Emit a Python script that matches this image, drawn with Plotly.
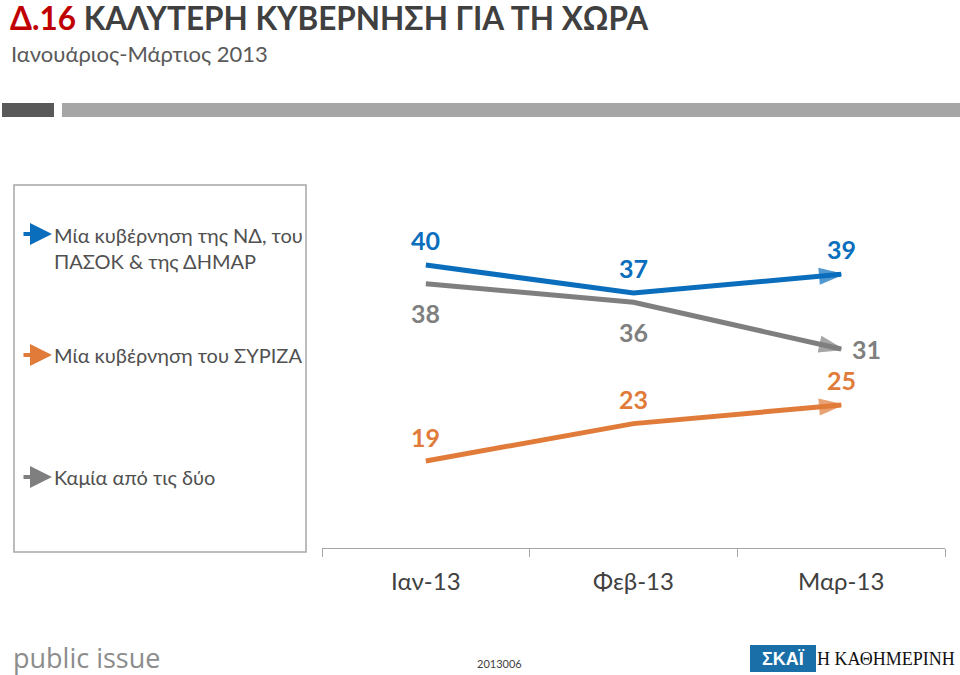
import plotly.graph_objects as go

months = ["Ιαν-13", "Φεβ-13", "Μαρ-13"]
series_names = ["Μία κυβέρνηση της ΝΔ, του<br>ΠΑΣΟΚ & της ΔΗΜΑΡ",
                "Μία κυβέρνηση του ΣΥΡΙΖΑ",
                "Καμία από τις δύο"]
nd_pasok_dimar = [40, 37, 39]
syriza = [19, 23, 25]
none_of_two = [38, 36, 31]

W, H = 960, 675
def px(x):
    return x / W
def py(y):
    return 1 - y / H

BLUE = "#0a6ebd"
ORANGE = "#e07b39"
GRAY = "#7f7f7f"
TXT = "#404040"
FONT = "Lato"

fig = go.Figure()

order = [(none_of_two, GRAY), (syriza, ORANGE), (nd_pasok_dimar, BLUE)]
for vals, col in order:
    fig.add_trace(go.Scatter(
        x=months, y=vals, mode="lines+markers",
        line=dict(color=col, width=5),
        marker=dict(symbol=["circle", "circle", "arrow"], size=[0, 0, 22],
                    color=col, angleref="previous", line=dict(width=2.5, color=col)),
        showlegend=False, hoverinfo="skip", cliponaxis=False))

# value labels
label_specs = [
    (nd_pasok_dimar, BLUE, [(0, -25), (0, -25), (0, -25)]),
    (none_of_two, GRAY, [(0, 29), (0, 30), (25, 0)]),
    (syriza, ORANGE, [(0, -24), (0, -25), (0, -25)]),
]
annotations = []
for vals, col, offs in label_specs:
    for m, v, (dx, dy) in zip(months, vals, offs):
        annotations.append(dict(x=m, y=v, xref="x", yref="y", text="<b>%d</b>" % v,
                                showarrow=False, xshift=dx, yshift=-dy,
                                font=dict(family=FONT, size=25, color=col)))

# title etc.
annotations.append(dict(x=px(8), y=py(18), xref="paper", yref="paper",
                        xanchor="left", yanchor="middle", showarrow=False,
                        text="<b><span style='color:#c00000'>Δ.16</span> ΚΑΛΥΤΕΡΗ ΚΥΒΕΡΝΗΣΗ ΓΙΑ ΤΗ ΧΩΡΑ</b>",
                        font=dict(family=FONT, size=31.5, color="#404040")))
annotations.append(dict(x=px(9), y=py(54), xref="paper", yref="paper",
                        xanchor="left", yanchor="middle", showarrow=False,
                        text="Ιανουάριος-Μάρτιος 2013",
                        font=dict(family=FONT, size=22, color="#595959")))

# legend entries
leg_text_y = [248, 355, 477]
leg_cols = [BLUE, ORANGE, GRAY]
for name, ty, col in zip(series_names, leg_text_y, leg_cols):
    annotations.append(dict(x=px(52), y=py(ty), xref="paper", yref="paper",
                            xanchor="left", yanchor="middle", showarrow=False,
                            align="left", text=name,
                            font=dict(family=FONT, size=20, color="#505050")))
leg_arrow_y = [234, 355, 477]
for ay_, col in zip(leg_arrow_y, leg_cols):
    annotations.append(dict(x=px(52), y=py(ay_), xref="paper", yref="paper",
                            ax=-30, ay=0, axref="pixel", ayref="pixel",
                            showarrow=True, arrowhead=2, arrowsize=1.1,
                            arrowwidth=4, arrowcolor=col, text=""))

# footer
annotations.append(dict(x=px(11), y=py(657), xref="paper", yref="paper",
                        xanchor="left", yanchor="middle", showarrow=False,
                        text="public issue",
                        font=dict(family="Open Sans", size=27, color="#8c8c8c")))
annotations.append(dict(x=px(499), y=py(663), xref="paper", yref="paper",
                        xanchor="center", yanchor="middle", showarrow=False,
                        text="2013006",
                        font=dict(family=FONT, size=11, color="#404040")))
annotations.append(dict(x=px(783), y=py(659), xref="paper", yref="paper",
                        xanchor="center", yanchor="middle", showarrow=False,
                        text="<b>ΣΚΑΪ</b>",
                        font=dict(family="Liberation Sans", size=18, color="white")))
annotations.append(dict(x=px(957), y=py(659), xref="paper", yref="paper",
                        xanchor="right", yanchor="middle", showarrow=False,
                        text="Η ΚΑΘΗΜΕΡΙΝΗ",
                        font=dict(family="Liberation Serif", size=18, color="#111111")))

shapes = [
    dict(type="rect", xref="paper", yref="paper", x0=px(2), x1=px(54),
         y0=py(117), y1=py(103), fillcolor="#595959", line=dict(width=0)),
    dict(type="rect", xref="paper", yref="paper", x0=px(62), x1=px(960),
         y0=py(117), y1=py(103), fillcolor="#a6a6a6", line=dict(width=0)),
    dict(type="rect", xref="paper", yref="paper", x0=px(14), x1=px(306),
         y0=py(552), y1=py(185), fillcolor="rgba(0,0,0,0)",
         line=dict(color="#a6a6a6", width=1.5)),
    dict(type="rect", xref="paper", yref="paper", x0=px(750), x1=px(816),
         y0=py(672), y1=py(645), fillcolor="#1a6fa8", line=dict(width=0)),
]

fig.update_layout(
    width=W, height=H, margin=dict(l=0, r=0, t=0, b=0),
    paper_bgcolor="white", plot_bgcolor="white",
    xaxis=dict(domain=[px(322), px(945)], type="category", range=[-0.5, 2.5],
               showline=True, linecolor="#a6a6a6", linewidth=1.2,
               ticks="outside", tickson="boundaries", ticklen=8,
               tickcolor="#a6a6a6", showgrid=False, zeroline=False,
               tickfont=dict(family=FONT, size=24, color=TXT), ticklabelstandoff=12,
               fixedrange=True),
    yaxis=dict(domain=[py(548), py(200)], range=[9.67, 46.97], visible=False,
               showgrid=False, zeroline=False, fixedrange=True),
    annotations=annotations, shapes=shapes, showlegend=False,
)

fig.write_html("out.html", config={"displayModeBar": False},
               post_script="document.body.style.margin='0';document.body.style.padding='0';")
